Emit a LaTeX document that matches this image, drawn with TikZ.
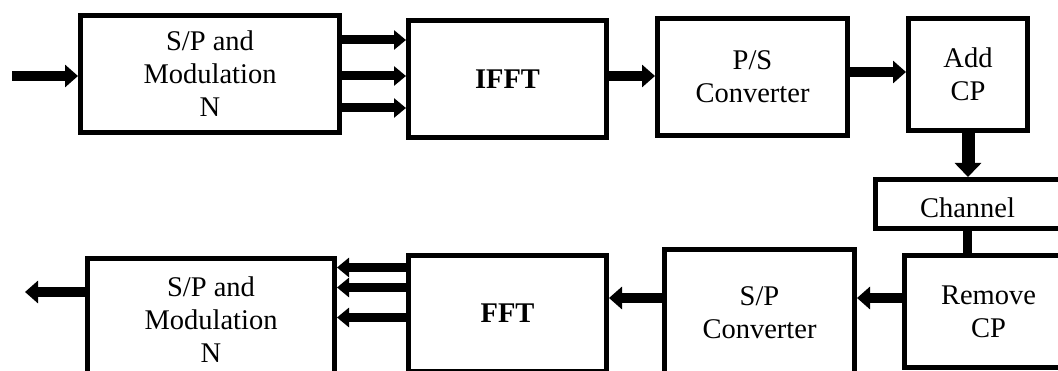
\documentclass[tikz,border=0pt]{standalone}
\usepackage{fontspec}
\setmainfont{Liberation Serif}
\usetikzlibrary{arrows.meta}
\begin{document}
\begin{tikzpicture}[x=1pt,y=1pt,
  blk/.style={draw, line width=5pt, rectangle, inner sep=0pt, align=center,
    font=\fontsize{28.5}{33}\selectfont},
  txt/.style={inner sep=0pt, font=\fontsize{28.5}{33}\selectfont},
  arr/.style={line width=10pt, -{Triangle[length=13pt,width=22pt]}},
  arrs/.style={line width=9pt, -{Triangle[length=12pt,width=19pt]}},
  varr/.style={line width=13pt, -{Triangle[length=14pt,width=26pt]}},
  link/.style={line width=9pt}]
\useasboundingbox (0,0) rectangle (1058,-371);
\clip (0,0) rectangle (1058,-371);
% top row
\node[blk, minimum width=259pt, minimum height=117pt] (mod1) at (210,-74) {S/P and\\Modulation\\N};
\node[blk, minimum width=198pt, minimum height=117pt] (ifft) at (507.5,-79) {\bfseries IFFT};
\node[blk, minimum width=190pt, minimum height=117pt] (ps) at (752.5,-77) {P/S\\Converter};
\node[blk, minimum width=119pt, minimum height=112pt] (addcp) at (968,-74.5) {Add\\CP};
% channel
\node[blk, minimum width=192pt, minimum height=49pt] (chan) at (971.5,-204) {};
\node[txt] (chtxt) at (967.5,-207.3) {Channel};
% bottom row
\node[blk, minimum width=168pt, minimum height=112pt] (rcp) at (988.5,-311.5) {Remove\\CP};
\node[blk, minimum width=190pt, minimum height=127pt] (spc) at (759.5,-313) {S/P\\Converter};
\node[blk, minimum width=198pt, minimum height=116.3pt] (fft) at (507.5,-313.6) {\bfseries FFT};
\node[blk, minimum width=247pt, minimum height=123pt] (mod2) at (211,-320) {S/P and\\Modulation\\N};
% connectors
\coordinate (in) at (12,-76);
\draw[arr] (in) -- (in -| mod1.west);
\foreach \y in {40,76,108} \draw[arrs] (mod1.east |- 0,-\y) -- (ifft.west |- 0,-\y);
\draw[arr] (ifft.east |- 0,-76) -- (ps.west |- 0,-76);
\draw[arr] (ps.east |- 0,-72) -- (addcp.west |- 0,-72);
\draw[varr] (addcp.south) -- (addcp.south |- chan.north);
\draw[link] (chan.south -| 967,0) -- (rcp.north -| 967,0);
\draw[arr] (rcp.west |- 0,-298) -- (spc.east |- 0,-298);
\draw[arr] (spc.west |- 0,-298) -- (fft.east |- 0,-298);
\foreach \y in {267.5,287.5,317.5} \draw[arrs] (fft.west |- 0,-\y) -- (mod2.east |- 0,-\y);
\coordinate (out) at (25,-292);
\draw[arr] (mod2.west |- out) -- (out);
\end{tikzpicture}
\end{document}
